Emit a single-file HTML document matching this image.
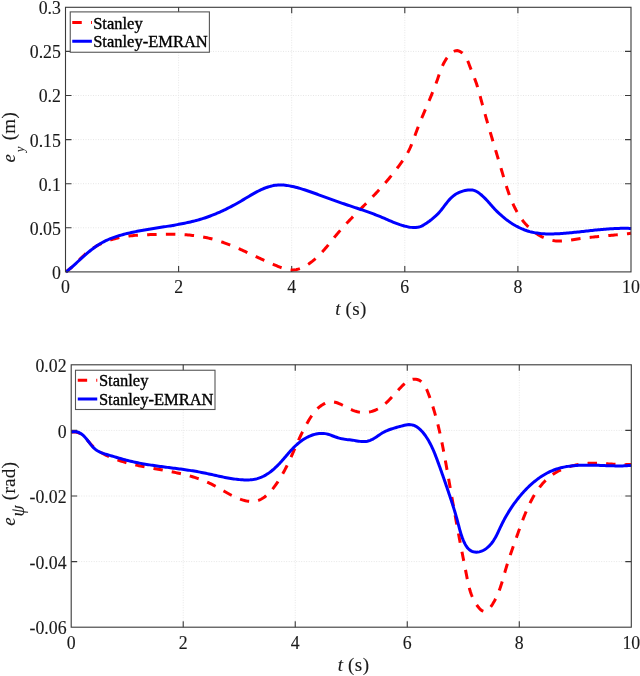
<!DOCTYPE html>
<html><head><meta charset="utf-8"><style>
html,body{margin:0;padding:0;background:#fff;width:640px;height:676px;overflow:hidden}
svg{display:block;filter:blur(0.3px)}
.tk{font-family:"Liberation Serif",serif;font-size:17.8px;fill:#1a1a1a;stroke:#1a1a1a;stroke-width:0.12px}
.lb{font-family:"Liberation Serif",serif;font-size:19px;fill:#1a1a1a;stroke:#1a1a1a;stroke-width:0.12px}
.lg{font-family:"Liberation Serif",serif;font-size:16.5px;fill:#000;stroke:#000;stroke-width:0.35px}
</style></head><body>
<svg width="640" height="676" viewBox="0 0 640 676">
<rect width="640" height="676" fill="#fff"/>
<path d="M178.60 7.30 V271.90 M291.70 7.30 V271.90 M404.80 7.30 V271.90 M517.90 7.30 V271.90 M65.50 227.80 H631.00 M65.50 183.70 H631.00 M65.50 139.60 H631.00 M65.50 95.50 H631.00 M65.50 51.40 H631.00" stroke="#e6e6e6" stroke-width="1" stroke-dasharray="1 1.5" fill="none"/>
<path d="M178.60 271.90 v-6.00 M178.60 7.30 v6.00 M291.70 271.90 v-6.00 M291.70 7.30 v6.00 M404.80 271.90 v-6.00 M404.80 7.30 v6.00 M517.90 271.90 v-6.00 M517.90 7.30 v6.00 M65.50 227.80 h6.00 M631.00 227.80 h-6.00 M65.50 183.70 h6.00 M631.00 183.70 h-6.00 M65.50 139.60 h6.00 M631.00 139.60 h-6.00 M65.50 95.50 h6.00 M631.00 95.50 h-6.00 M65.50 51.40 h6.00 M631.00 51.40 h-6.00" stroke="#3a3a3a" stroke-width="1.1" fill="none"/>
<text x="65.50" y="293.10" text-anchor="middle" class="tk">0</text>
<text x="178.60" y="293.10" text-anchor="middle" class="tk">2</text>
<text x="291.70" y="293.10" text-anchor="middle" class="tk">4</text>
<text x="404.80" y="293.10" text-anchor="middle" class="tk">6</text>
<text x="517.90" y="293.10" text-anchor="middle" class="tk">8</text>
<text x="631.00" y="293.10" text-anchor="middle" class="tk">10</text>
<text x="60.90" y="278.80" text-anchor="end" class="tk">0</text>
<text x="60.90" y="234.70" text-anchor="end" class="tk">0.05</text>
<text x="60.90" y="190.60" text-anchor="end" class="tk">0.1</text>
<text x="60.90" y="146.50" text-anchor="end" class="tk">0.15</text>
<text x="60.90" y="102.40" text-anchor="end" class="tk">0.2</text>
<text x="60.90" y="58.30" text-anchor="end" class="tk">0.25</text>
<text x="60.90" y="14.20" text-anchor="end" class="tk">0.3</text>
<path d="M183.22 364.80 V627.20 M295.24 364.80 V627.20 M407.26 364.80 V627.20 M519.28 364.80 V627.20 M71.20 561.60 H631.30 M71.20 496.00 H631.30 M71.20 430.40 H631.30" stroke="#e6e6e6" stroke-width="1" stroke-dasharray="1 1.5" fill="none"/>
<path d="M183.22 627.20 v-6.00 M183.22 364.80 v6.00 M295.24 627.20 v-6.00 M295.24 364.80 v6.00 M407.26 627.20 v-6.00 M407.26 364.80 v6.00 M519.28 627.20 v-6.00 M519.28 364.80 v6.00 M71.20 561.60 h6.00 M631.30 561.60 h-6.00 M71.20 496.00 h6.00 M631.30 496.00 h-6.00 M71.20 430.40 h6.00 M631.30 430.40 h-6.00" stroke="#3a3a3a" stroke-width="1.1" fill="none"/>
<text x="71.20" y="649.40" text-anchor="middle" class="tk">0</text>
<text x="183.22" y="649.40" text-anchor="middle" class="tk">2</text>
<text x="295.24" y="649.40" text-anchor="middle" class="tk">4</text>
<text x="407.26" y="649.40" text-anchor="middle" class="tk">6</text>
<text x="519.28" y="649.40" text-anchor="middle" class="tk">8</text>
<text x="631.30" y="649.40" text-anchor="middle" class="tk">10</text>
<text x="66.60" y="634.40" text-anchor="end" class="tk">-0.06</text>
<text x="66.60" y="568.80" text-anchor="end" class="tk">-0.04</text>
<text x="66.60" y="503.20" text-anchor="end" class="tk">-0.02</text>
<text x="66.60" y="437.60" text-anchor="end" class="tk">0</text>
<text x="66.60" y="372.00" text-anchor="end" class="tk">0.02</text>
<path d="M65.79 271.82 L67.05 270.97 L68.27 270.08 L69.46 269.15 L70.62 268.20 L71.75 267.22 L72.86 266.23 L73.95 265.21 L75.03 264.17 L76.09 263.13 L77.15 262.07 L78.20 261.01 L79.24 259.95 L80.29 258.89 L81.35 257.84 L82.41 256.79 L83.49 255.76 L84.58 254.74 L85.70 253.74 L86.83 252.77 L87.99 251.82 L89.18 250.89 L90.39 250.00 L91.63 249.13 L92.88 248.29 L94.16 247.47 L95.45 246.69 L96.76 245.93 L98.09 245.20 L99.43 244.50 L100.79 243.82 L102.15 243.18 L103.53 242.57 L104.92 241.98 L106.31 241.43 L107.71 240.90 L109.11 240.40 L110.52 239.93 L111.94 239.49 L113.36 239.08 L114.79 238.69 L116.22 238.32 L117.66 237.98 L119.10 237.66 L120.54 237.36 L122.00 237.08 L123.45 236.82 L124.91 236.59 L126.37 236.37 L127.84 236.16 L129.31 235.98 L130.79 235.81 L132.27 235.65 L133.75 235.51 L135.23 235.38 L136.72 235.26 L138.21 235.15 L139.70 235.06 L141.20 234.97 L142.70 234.89 L144.20 234.82 L145.70 234.76 L147.20 234.70 L148.71 234.64 L150.21 234.59 L151.72 234.54 L153.23 234.50 L154.74 234.46 L156.26 234.42 L157.77 234.38 L159.28 234.35 L160.80 234.32 L162.31 234.29 L163.83 234.27 L165.34 234.26 L166.85 234.25 L168.37 234.24 L169.88 234.25 L171.40 234.26 L172.91 234.27 L174.42 234.30 L175.93 234.34 L177.44 234.38 L178.95 234.43 L180.45 234.49 L181.96 234.56 L183.46 234.65 L184.96 234.74 L186.46 234.85 L187.96 234.96 L189.45 235.09 L190.94 235.23 L192.43 235.39 L193.91 235.56 L195.40 235.74 L196.88 235.94 L198.35 236.15 L199.82 236.38 L201.29 236.62 L202.76 236.88 L204.22 237.16 L205.67 237.45 L207.13 237.76 L208.57 238.09 L210.02 238.44 L211.45 238.80 L212.89 239.18 L214.32 239.58 L215.74 240.00 L217.17 240.43 L218.58 240.87 L220.00 241.33 L221.41 241.81 L222.82 242.29 L224.22 242.79 L225.62 243.31 L227.02 243.83 L228.41 244.36 L229.81 244.91 L231.20 245.47 L232.58 246.03 L233.97 246.60 L235.35 247.19 L236.73 247.78 L238.11 248.37 L239.49 248.98 L240.86 249.59 L242.24 250.20 L243.61 250.82 L244.98 251.45 L246.35 252.07 L247.72 252.71 L249.08 253.34 L250.45 253.98 L251.82 254.61 L253.18 255.25 L254.55 255.89 L255.91 256.53 L257.28 257.17 L258.65 257.81 L260.01 258.44 L261.38 259.08 L262.74 259.71 L264.11 260.34 L265.48 260.96 L266.85 261.58 L268.22 262.19 L269.59 262.80 L270.96 263.40 L272.33 263.99 L273.71 264.58 L275.08 265.16 L276.46 265.73 L277.84 266.29 L279.22 266.84 L280.61 267.37 L282.00 267.87 L283.39 268.34 L284.78 268.76 L286.18 269.14 L287.58 269.45 L288.98 269.70 L290.39 269.87 L291.80 269.96 L293.22 269.96 L294.64 269.86 L296.07 269.65 L297.50 269.34 L298.93 268.93 L300.36 268.42 L301.78 267.84 L303.19 267.18 L304.59 266.45 L305.97 265.66 L307.34 264.82 L308.68 263.93 L309.99 263.01 L311.27 262.06 L312.53 261.08 L313.74 260.09 L314.93 259.09 L316.09 258.07 L317.21 257.03 L318.31 255.99 L319.39 254.93 L320.44 253.86 L321.47 252.77 L322.48 251.68 L323.48 250.58 L324.45 249.47 L325.42 248.36 L326.37 247.24 L327.31 246.11 L328.24 244.98 L329.16 243.84 L330.08 242.71 L331.00 241.57 L331.92 240.43 L332.83 239.29 L333.75 238.15 L334.67 237.01 L335.60 235.87 L336.53 234.74 L337.47 233.61 L338.43 232.48 L339.39 231.36 L340.36 230.24 L341.34 229.13 L342.33 228.02 L343.33 226.92 L344.34 225.82 L345.35 224.72 L346.37 223.62 L347.40 222.53 L348.43 221.44 L349.46 220.35 L350.51 219.26 L351.55 218.18 L352.60 217.10 L353.66 216.02 L354.71 214.94 L355.77 213.86 L356.83 212.79 L357.90 211.71 L358.96 210.64 L360.03 209.56 L361.10 208.49 L362.16 207.41 L363.23 206.34 L364.29 205.27 L365.36 204.19 L366.42 203.12 L367.48 202.04 L368.54 200.96 L369.59 199.89 L370.64 198.81 L371.69 197.73 L372.73 196.64 L373.77 195.56 L374.80 194.47 L375.83 193.38 L376.85 192.29 L377.87 191.19 L378.88 190.10 L379.88 189.00 L380.87 187.89 L381.87 186.78 L382.85 185.67 L383.83 184.56 L384.80 183.44 L385.77 182.32 L386.73 181.19 L387.69 180.06 L388.64 178.92 L389.59 177.78 L390.53 176.63 L391.47 175.48 L392.40 174.32 L393.33 173.16 L394.25 171.99 L395.17 170.81 L396.08 169.63 L396.99 168.44 L397.90 167.25 L398.80 166.05 L399.69 164.84 L400.58 163.62 L401.47 162.40 L402.34 161.17 L403.20 159.93 L404.05 158.68 L404.88 157.41 L405.69 156.14 L406.47 154.85 L407.23 153.55 L407.97 152.24 L408.67 150.91 L409.34 149.57 L409.98 148.22 L410.59 146.85 L411.19 145.47 L411.76 144.09 L412.32 142.70 L412.86 141.30 L413.39 139.89 L413.91 138.49 L414.42 137.08 L414.93 135.66 L415.44 134.25 L415.95 132.84 L416.47 131.44 L416.99 130.03 L417.52 128.64 L418.06 127.24 L418.60 125.85 L419.15 124.46 L419.71 123.07 L420.27 121.69 L420.83 120.31 L421.40 118.93 L421.97 117.55 L422.54 116.18 L423.12 114.80 L423.70 113.43 L424.28 112.06 L424.86 110.69 L425.45 109.32 L426.03 107.95 L426.62 106.58 L427.20 105.20 L427.79 103.83 L428.37 102.46 L428.95 101.08 L429.53 99.71 L430.11 98.33 L430.69 96.95 L431.26 95.57 L431.83 94.19 L432.39 92.80 L432.95 91.41 L433.51 90.02 L434.06 88.62 L434.60 87.22 L435.14 85.81 L435.67 84.41 L436.20 82.99 L436.71 81.57 L437.22 80.15 L437.73 78.72 L438.22 77.29 L438.71 75.86 L439.20 74.42 L439.70 72.99 L440.21 71.56 L440.73 70.14 L441.27 68.74 L441.84 67.34 L442.43 65.97 L443.05 64.61 L443.71 63.27 L444.41 61.96 L445.16 60.67 L445.95 59.41 L446.80 58.19 L447.71 57.00 L448.68 55.85 L449.71 54.74 L450.82 53.67 L452.00 52.66 L453.25 51.77 L454.56 51.09 L455.91 50.67 L457.31 50.61 L458.73 50.91 L460.13 51.53 L461.49 52.39 L462.74 53.41 L463.87 54.55 L464.86 55.75 L465.72 57.00 L466.49 58.31 L467.16 59.65 L467.78 61.02 L468.34 62.41 L468.88 63.82 L469.41 65.22 L469.94 66.62 L470.48 68.02 L471.03 69.41 L471.58 70.80 L472.13 72.19 L472.68 73.58 L473.23 74.97 L473.78 76.36 L474.32 77.75 L474.85 79.15 L475.37 80.55 L475.87 81.96 L476.37 83.37 L476.84 84.79 L477.30 86.22 L477.74 87.66 L478.18 89.10 L478.60 90.55 L479.01 92.00 L479.41 93.46 L479.81 94.92 L480.20 96.37 L480.59 97.83 L480.98 99.29 L481.36 100.75 L481.75 102.20 L482.14 103.66 L482.54 105.10 L482.93 106.55 L483.33 108.00 L483.73 109.44 L484.13 110.88 L484.53 112.32 L484.93 113.76 L485.34 115.20 L485.74 116.63 L486.15 118.07 L486.56 119.50 L486.97 120.93 L487.38 122.36 L487.79 123.79 L488.21 125.22 L488.62 126.64 L489.04 128.07 L489.45 129.50 L489.87 130.92 L490.29 132.35 L490.71 133.77 L491.13 135.19 L491.55 136.62 L491.98 138.04 L492.40 139.47 L492.82 140.89 L493.25 142.31 L493.67 143.74 L494.10 145.16 L494.53 146.59 L494.95 148.01 L495.38 149.44 L495.81 150.87 L496.24 152.30 L496.67 153.73 L497.10 155.16 L497.53 156.59 L497.96 158.02 L498.39 159.46 L498.82 160.89 L499.25 162.33 L499.67 163.77 L500.10 165.21 L500.53 166.65 L500.96 168.10 L501.39 169.54 L501.82 170.99 L502.25 172.45 L502.68 173.90 L503.11 175.35 L503.54 176.81 L503.97 178.27 L504.41 179.73 L504.85 181.18 L505.29 182.64 L505.74 184.09 L506.19 185.54 L506.66 186.99 L507.12 188.44 L507.60 189.88 L508.09 191.32 L508.58 192.75 L509.09 194.17 L509.61 195.59 L510.14 197.00 L510.69 198.41 L511.24 199.80 L511.82 201.19 L512.41 202.57 L513.01 203.94 L513.63 205.29 L514.27 206.64 L514.93 207.97 L515.61 209.30 L516.31 210.60 L517.03 211.90 L517.77 213.18 L518.54 214.45 L519.33 215.70 L520.14 216.93 L520.98 218.15 L521.84 219.35 L522.73 220.53 L523.65 221.70 L524.60 222.84 L525.58 223.97 L526.58 225.07 L527.61 226.16 L528.68 227.22 L529.77 228.25 L530.88 229.26 L532.02 230.23 L533.19 231.18 L534.38 232.09 L535.59 232.97 L536.83 233.82 L538.09 234.62 L539.37 235.39 L540.67 236.11 L541.99 236.80 L543.33 237.43 L544.69 238.03 L546.07 238.57 L547.46 239.06 L548.87 239.51 L550.30 239.90 L551.74 240.23 L553.19 240.51 L554.66 240.73 L556.14 240.89 L557.63 240.99 L559.13 241.03 L560.64 241.02 L562.16 240.96 L563.69 240.86 L565.22 240.72 L566.75 240.55 L568.29 240.36 L569.83 240.15 L571.36 239.92 L572.90 239.69 L574.43 239.45 L575.95 239.22 L577.47 239.00 L578.99 238.78 L580.50 238.57 L582.00 238.37 L583.50 238.17 L584.99 237.98 L586.48 237.80 L587.97 237.62 L589.45 237.45 L590.93 237.29 L592.41 237.12 L593.88 236.97 L595.36 236.81 L596.83 236.66 L598.30 236.51 L599.77 236.37 L601.24 236.23 L602.70 236.09 L604.17 235.95 L605.64 235.81 L607.11 235.68 L608.58 235.54 L610.05 235.41 L611.53 235.27 L613.01 235.14 L614.48 235.00 L615.97 234.87 L617.45 234.73 L618.94 234.59 L620.43 234.45 L621.93 234.30 L623.43 234.15 L624.94 234.00 L626.45 233.85 L627.97 233.69 L629.49 233.53 L631.02 233.36" stroke="#ff0000" stroke-width="3.00" stroke-dasharray="9.5 9.237" stroke-dashoffset="1.04" fill="none"/>
<path d="M66.00 272.00 L67.13 271.09 L68.25 270.16 L69.37 269.22 L70.49 268.26 L71.60 267.29 L72.71 266.30 L73.82 265.31 L74.93 264.30 L76.04 263.29 L77.15 262.27 L78.26 261.25 L79.37 260.23 L80.49 259.21 L81.60 258.19 L82.73 257.17 L83.86 256.16 L84.99 255.15 L86.13 254.16 L87.28 253.17 L88.43 252.20 L89.60 251.23 L90.77 250.29 L91.95 249.36 L93.15 248.45 L94.35 247.56 L95.57 246.69 L96.80 245.85 L98.04 245.03 L99.30 244.24 L100.57 243.48 L101.85 242.75 L103.15 242.04 L104.47 241.37 L105.79 240.72 L107.13 240.09 L108.48 239.50 L109.85 238.92 L111.22 238.37 L112.61 237.84 L114.00 237.33 L115.40 236.84 L116.81 236.38 L118.23 235.93 L119.66 235.49 L121.10 235.08 L122.54 234.68 L123.99 234.29 L125.44 233.92 L126.90 233.56 L128.36 233.21 L129.82 232.87 L131.29 232.55 L132.76 232.23 L134.23 231.92 L135.71 231.62 L137.19 231.33 L138.67 231.05 L140.15 230.77 L141.63 230.50 L143.12 230.23 L144.60 229.97 L146.09 229.72 L147.58 229.46 L149.07 229.22 L150.56 228.97 L152.05 228.73 L153.54 228.49 L155.03 228.26 L156.52 228.02 L158.02 227.79 L159.51 227.56 L161.00 227.32 L162.49 227.09 L163.98 226.85 L165.47 226.62 L166.95 226.38 L168.44 226.14 L169.92 225.90 L171.41 225.65 L172.89 225.40 L174.37 225.15 L175.85 224.89 L177.32 224.62 L178.79 224.35 L180.27 224.07 L181.73 223.79 L183.20 223.50 L184.66 223.20 L186.12 222.90 L187.58 222.58 L189.03 222.26 L190.48 221.92 L191.92 221.58 L193.36 221.22 L194.80 220.86 L196.23 220.48 L197.66 220.09 L199.08 219.69 L200.50 219.28 L201.92 218.85 L203.33 218.40 L204.73 217.95 L206.13 217.48 L207.52 216.99 L208.91 216.50 L210.30 215.99 L211.68 215.46 L213.05 214.93 L214.43 214.38 L215.80 213.81 L217.16 213.24 L218.52 212.65 L219.88 212.05 L221.23 211.44 L222.58 210.81 L223.93 210.18 L225.28 209.53 L226.62 208.87 L227.96 208.20 L229.30 207.52 L230.63 206.83 L231.96 206.13 L233.30 205.42 L234.62 204.69 L235.95 203.96 L237.28 203.22 L238.60 202.46 L239.92 201.70 L241.24 200.93 L242.56 200.15 L243.88 199.36 L245.20 198.57 L246.52 197.77 L247.84 196.98 L249.16 196.19 L250.48 195.41 L251.81 194.64 L253.13 193.88 L254.46 193.13 L255.79 192.40 L257.13 191.69 L258.47 191.00 L259.81 190.33 L261.16 189.70 L262.51 189.09 L263.87 188.51 L265.23 187.97 L266.61 187.46 L267.98 187.00 L269.37 186.57 L270.76 186.20 L272.16 185.87 L273.57 185.58 L274.99 185.36 L276.41 185.18 L277.85 185.07 L279.29 185.01 L280.74 184.99 L282.20 185.03 L283.67 185.12 L285.14 185.25 L286.61 185.42 L288.09 185.63 L289.58 185.87 L291.06 186.16 L292.55 186.47 L294.03 186.81 L295.52 187.18 L297.01 187.57 L298.49 187.98 L299.97 188.42 L301.45 188.87 L302.93 189.33 L304.40 189.80 L305.86 190.29 L307.32 190.78 L308.77 191.27 L310.22 191.77 L311.65 192.27 L313.08 192.77 L314.51 193.27 L315.93 193.78 L317.34 194.28 L318.75 194.79 L320.15 195.29 L321.55 195.80 L322.95 196.31 L324.35 196.82 L325.74 197.32 L327.13 197.83 L328.51 198.34 L329.90 198.84 L331.29 199.34 L332.67 199.85 L334.06 200.35 L335.44 200.85 L336.83 201.34 L338.22 201.84 L339.61 202.33 L341.00 202.81 L342.40 203.30 L343.79 203.78 L345.20 204.26 L346.60 204.74 L348.01 205.21 L349.42 205.68 L350.83 206.15 L352.24 206.62 L353.66 207.09 L355.07 207.56 L356.49 208.04 L357.91 208.51 L359.33 208.99 L360.75 209.46 L362.16 209.94 L363.58 210.43 L365.00 210.92 L366.42 211.41 L367.83 211.91 L369.25 212.41 L370.66 212.92 L372.07 213.44 L373.48 213.97 L374.88 214.50 L376.28 215.04 L377.68 215.59 L379.08 216.15 L380.47 216.72 L381.86 217.30 L383.24 217.89 L384.63 218.48 L386.01 219.08 L387.38 219.68 L388.76 220.28 L390.14 220.87 L391.52 221.46 L392.91 222.04 L394.29 222.60 L395.68 223.15 L397.08 223.68 L398.48 224.19 L399.88 224.68 L401.30 225.14 L402.72 225.57 L404.15 225.96 L405.60 226.33 L407.05 226.65 L408.51 226.94 L409.99 227.18 L411.48 227.38 L412.97 227.51 L414.47 227.56 L415.95 227.52 L417.41 227.36 L418.85 227.08 L420.26 226.64 L421.63 226.06 L422.96 225.37 L424.27 224.59 L425.56 223.78 L426.83 222.95 L428.08 222.09 L429.31 221.22 L430.52 220.32 L431.71 219.40 L432.87 218.45 L434.01 217.48 L435.13 216.49 L436.22 215.47 L437.29 214.42 L438.32 213.35 L439.33 212.25 L440.31 211.11 L441.27 209.96 L442.20 208.78 L443.12 207.58 L444.03 206.38 L444.94 205.18 L445.85 203.99 L446.77 202.80 L447.70 201.64 L448.66 200.50 L449.65 199.39 L450.67 198.32 L451.73 197.29 L452.83 196.32 L453.99 195.40 L455.20 194.55 L456.48 193.77 L457.81 193.05 L459.19 192.41 L460.60 191.83 L462.05 191.33 L463.53 190.89 L465.02 190.53 L466.52 190.24 L468.02 190.04 L469.51 189.93 L470.99 189.95 L472.45 190.10 L473.87 190.40 L475.25 190.87 L476.58 191.50 L477.87 192.26 L479.11 193.13 L480.30 194.05 L481.46 195.01 L482.58 196.01 L483.67 197.03 L484.73 198.08 L485.77 199.15 L486.79 200.24 L487.79 201.34 L488.79 202.45 L489.77 203.57 L490.76 204.70 L491.75 205.82 L492.75 206.94 L493.76 208.05 L494.79 209.16 L495.84 210.25 L496.90 211.32 L497.98 212.39 L499.08 213.43 L500.19 214.47 L501.33 215.48 L502.47 216.48 L503.64 217.45 L504.82 218.41 L506.01 219.35 L507.22 220.26 L508.45 221.15 L509.68 222.02 L510.94 222.87 L512.20 223.69 L513.48 224.48 L514.78 225.24 L516.08 225.98 L517.40 226.69 L518.73 227.37 L520.08 228.01 L521.43 228.63 L522.80 229.21 L524.17 229.76 L525.56 230.28 L526.96 230.76 L528.37 231.20 L529.79 231.61 L531.21 231.97 L532.65 232.31 L534.10 232.60 L535.55 232.87 L537.01 233.10 L538.47 233.30 L539.95 233.47 L541.43 233.62 L542.91 233.74 L544.40 233.83 L545.89 233.90 L547.39 233.94 L548.89 233.96 L550.39 233.97 L551.90 233.95 L553.41 233.92 L554.92 233.87 L556.42 233.81 L557.93 233.74 L559.44 233.65 L560.95 233.55 L562.46 233.44 L563.96 233.33 L565.47 233.21 L566.97 233.08 L568.47 232.94 L569.96 232.80 L571.46 232.66 L572.95 232.51 L574.44 232.36 L575.93 232.21 L577.42 232.05 L578.91 231.89 L580.39 231.73 L581.88 231.56 L583.36 231.40 L584.85 231.23 L586.33 231.07 L587.81 230.90 L589.29 230.74 L590.77 230.58 L592.26 230.42 L593.74 230.26 L595.22 230.10 L596.70 229.95 L598.18 229.80 L599.67 229.66 L601.15 229.52 L602.63 229.39 L604.12 229.26 L605.61 229.14 L607.09 229.02 L608.58 228.91 L610.07 228.81 L611.56 228.72 L613.05 228.63 L614.55 228.55 L616.05 228.49 L617.54 228.43 L619.04 228.38 L620.55 228.35 L622.05 228.32 L623.56 228.31 L625.07 228.31 L626.58 228.32 L628.10 228.35 L629.62 228.38 L631.14 228.44" stroke="#0000ff" stroke-width="3.00" fill="none"/>
<path d="M71.14 432.23 L72.85 432.00 L74.45 431.96 L75.96 432.11 L77.38 432.42 L78.72 432.89 L79.98 433.50 L81.18 434.23 L82.33 435.08 L83.43 436.01 L84.49 437.03 L85.52 438.10 L86.54 439.23 L87.53 440.38 L88.53 441.56 L89.53 442.74 L90.55 443.90 L91.58 445.04 L92.65 446.13 L93.75 447.18 L94.88 448.17 L96.05 449.12 L97.24 450.02 L98.46 450.89 L99.70 451.71 L100.97 452.50 L102.26 453.25 L103.57 453.97 L104.89 454.66 L106.22 455.32 L107.57 455.95 L108.93 456.56 L110.30 457.15 L111.68 457.72 L113.06 458.27 L114.45 458.81 L115.85 459.32 L117.25 459.82 L118.66 460.31 L120.07 460.77 L121.49 461.23 L122.92 461.66 L124.34 462.09 L125.78 462.50 L127.22 462.90 L128.66 463.28 L130.11 463.65 L131.56 464.02 L133.02 464.37 L134.47 464.71 L135.94 465.04 L137.40 465.36 L138.87 465.68 L140.34 465.99 L141.81 466.29 L143.29 466.58 L144.77 466.87 L146.25 467.15 L147.73 467.43 L149.21 467.71 L150.69 467.98 L152.18 468.25 L153.66 468.51 L155.15 468.78 L156.63 469.04 L158.12 469.30 L159.60 469.56 L161.09 469.83 L162.57 470.09 L164.06 470.36 L165.54 470.63 L167.02 470.90 L168.50 471.17 L169.98 471.45 L171.46 471.73 L172.93 472.02 L174.40 472.32 L175.87 472.62 L177.34 472.93 L178.80 473.24 L180.26 473.57 L181.72 473.90 L183.17 474.24 L184.62 474.60 L186.07 474.96 L187.51 475.33 L188.94 475.72 L190.37 476.12 L191.80 476.53 L193.22 476.95 L194.64 477.39 L196.05 477.84 L197.45 478.31 L198.85 478.80 L200.24 479.30 L201.63 479.81 L203.01 480.35 L204.38 480.90 L205.74 481.47 L207.10 482.07 L208.45 482.68 L209.79 483.31 L211.12 483.96 L212.45 484.64 L213.77 485.33 L215.08 486.04 L216.39 486.77 L217.69 487.51 L219.00 488.25 L220.30 489.01 L221.61 489.77 L222.91 490.53 L224.23 491.29 L225.55 492.04 L226.87 492.79 L228.21 493.53 L229.55 494.26 L230.91 494.97 L232.28 495.66 L233.66 496.34 L235.07 496.99 L236.49 497.62 L237.92 498.22 L239.38 498.79 L240.86 499.33 L242.36 499.82 L243.88 500.27 L245.40 500.67 L246.92 501.00 L248.44 501.25 L249.95 501.43 L251.43 501.51 L252.90 501.49 L254.33 501.37 L255.72 501.13 L257.09 500.80 L258.42 500.37 L259.72 499.84 L260.99 499.23 L262.23 498.54 L263.45 497.77 L264.63 496.94 L265.78 496.03 L266.91 495.07 L268.00 494.06 L269.08 493.00 L270.12 491.89 L271.14 490.75 L272.14 489.57 L273.11 488.37 L274.05 487.15 L274.98 485.91 L275.88 484.66 L276.76 483.41 L277.62 482.14 L278.46 480.87 L279.28 479.59 L280.08 478.31 L280.87 477.01 L281.63 475.71 L282.38 474.41 L283.12 473.10 L283.84 471.78 L284.55 470.46 L285.25 469.14 L285.93 467.80 L286.60 466.47 L287.26 465.13 L287.92 463.79 L288.56 462.44 L289.20 461.09 L289.82 459.74 L290.45 458.38 L291.06 457.03 L291.68 455.67 L292.28 454.31 L292.89 452.95 L293.49 451.58 L294.10 450.22 L294.70 448.85 L295.30 447.49 L295.90 446.13 L296.50 444.76 L297.11 443.40 L297.72 442.04 L298.34 440.67 L298.96 439.31 L299.58 437.96 L300.21 436.60 L300.85 435.25 L301.50 433.90 L302.16 432.55 L302.82 431.21 L303.50 429.87 L304.19 428.53 L304.89 427.20 L305.60 425.87 L306.33 424.55 L307.08 423.23 L307.83 421.91 L308.61 420.61 L309.40 419.31 L310.21 418.01 L311.04 416.73 L311.90 415.46 L312.79 414.22 L313.70 413.00 L314.66 411.81 L315.65 410.65 L316.68 409.53 L317.75 408.46 L318.88 407.44 L320.05 406.47 L321.28 405.55 L322.57 404.71 L323.90 403.94 L325.26 403.26 L326.65 402.70 L328.05 402.26 L329.44 401.97 L330.83 401.83 L332.21 401.83 L333.58 401.96 L334.95 402.21 L336.31 402.56 L337.67 403.01 L339.03 403.53 L340.39 404.12 L341.75 404.77 L343.11 405.45 L344.49 406.16 L345.86 406.89 L347.25 407.62 L348.65 408.33 L350.06 409.03 L351.48 409.68 L352.93 410.29 L354.38 410.84 L355.86 411.31 L357.35 411.70 L358.86 412.00 L360.38 412.22 L361.90 412.37 L363.43 412.43 L364.95 412.41 L366.46 412.32 L367.95 412.16 L369.42 411.92 L370.88 411.61 L372.30 411.22 L373.69 410.77 L375.04 410.26 L376.35 409.67 L377.64 409.03 L378.89 408.33 L380.11 407.58 L381.31 406.78 L382.48 405.92 L383.63 405.03 L384.76 404.09 L385.87 403.12 L386.97 402.11 L388.05 401.07 L389.12 400.01 L390.18 398.92 L391.23 397.81 L392.28 396.68 L393.33 395.54 L394.37 394.39 L395.42 393.23 L396.47 392.06 L397.53 390.90 L398.59 389.74 L399.66 388.58 L400.75 387.43 L401.85 386.30 L402.97 385.19 L404.11 384.11 L405.27 383.09 L406.46 382.15 L407.68 381.30 L408.93 380.57 L410.22 379.97 L411.55 379.52 L412.93 379.24 L414.35 379.16 L415.79 379.26 L417.22 379.55 L418.59 380.00 L419.86 380.62 L421.01 381.38 L422.06 382.27 L423.02 383.28 L423.90 384.39 L424.70 385.59 L425.43 386.87 L426.12 388.21 L426.75 389.60 L427.35 391.03 L427.92 392.48 L428.48 393.94 L429.02 395.39 L429.56 396.85 L430.08 398.31 L430.59 399.76 L431.09 401.22 L431.58 402.67 L432.06 404.13 L432.53 405.58 L432.99 407.03 L433.44 408.49 L433.89 409.94 L434.32 411.39 L434.75 412.85 L435.16 414.30 L435.57 415.75 L435.97 417.20 L436.37 418.66 L436.75 420.11 L437.13 421.56 L437.50 423.01 L437.87 424.47 L438.23 425.92 L438.58 427.37 L438.92 428.82 L439.26 430.28 L439.60 431.73 L439.92 433.18 L440.25 434.64 L440.57 436.09 L440.88 437.55 L441.19 439.00 L441.49 440.46 L441.79 441.92 L442.09 443.37 L442.38 444.83 L442.67 446.29 L442.96 447.75 L443.24 449.21 L443.52 450.67 L443.80 452.13 L444.07 453.59 L444.34 455.05 L444.62 456.51 L444.88 457.98 L445.15 459.44 L445.42 460.91 L445.68 462.38 L445.95 463.84 L446.21 465.31 L446.48 466.78 L446.74 468.25 L447.00 469.73 L447.27 471.20 L447.53 472.67 L447.79 474.15 L448.05 475.62 L448.32 477.10 L448.58 478.58 L448.84 480.05 L449.10 481.53 L449.36 483.01 L449.63 484.49 L449.89 485.97 L450.15 487.45 L450.41 488.93 L450.67 490.41 L450.93 491.89 L451.20 493.37 L451.46 494.86 L451.72 496.34 L451.98 497.82 L452.24 499.30 L452.51 500.78 L452.77 502.26 L453.03 503.75 L453.30 505.23 L453.56 506.71 L453.83 508.19 L454.09 509.67 L454.36 511.15 L454.62 512.63 L454.89 514.11 L455.16 515.59 L455.42 517.07 L455.69 518.55 L455.96 520.03 L456.23 521.51 L456.50 522.98 L456.77 524.46 L457.04 525.93 L457.31 527.41 L457.59 528.88 L457.86 530.36 L458.14 531.83 L458.41 533.30 L458.69 534.77 L458.97 536.24 L459.24 537.70 L459.52 539.17 L459.80 540.64 L460.08 542.10 L460.37 543.56 L460.65 545.03 L460.93 546.49 L461.22 547.95 L461.50 549.41 L461.78 550.87 L462.07 552.34 L462.36 553.80 L462.64 555.26 L462.93 556.72 L463.21 558.18 L463.50 559.65 L463.79 561.11 L464.08 562.57 L464.36 564.04 L464.65 565.51 L464.94 566.97 L465.22 568.44 L465.51 569.91 L465.79 571.39 L466.08 572.86 L466.36 574.34 L466.65 575.81 L466.93 577.29 L467.22 578.77 L467.52 580.25 L467.83 581.73 L468.15 583.21 L468.48 584.68 L468.84 586.15 L469.21 587.61 L469.61 589.07 L470.04 590.52 L470.49 591.96 L470.98 593.40 L471.50 594.82 L472.06 596.24 L472.67 597.64 L473.31 599.03 L474.01 600.41 L474.75 601.78 L475.55 603.12 L476.40 604.46 L477.31 605.77 L478.27 607.04 L479.27 608.23 L480.32 609.29 L481.39 610.18 L482.47 610.86 L483.57 611.29 L484.66 611.43 L485.75 611.24 L486.82 610.75 L487.87 610.00 L488.89 609.03 L489.89 607.90 L490.86 606.65 L491.78 605.31 L492.67 603.95 L493.51 602.57 L494.31 601.19 L495.07 599.80 L495.79 598.40 L496.48 596.99 L497.13 595.58 L497.75 594.16 L498.35 592.74 L498.91 591.31 L499.46 589.88 L499.97 588.45 L500.47 587.01 L500.95 585.57 L501.41 584.13 L501.86 582.69 L502.30 581.25 L502.72 579.81 L503.14 578.37 L503.55 576.93 L503.96 575.50 L504.36 574.07 L504.77 572.64 L505.17 571.21 L505.58 569.79 L506.00 568.38 L506.42 566.97 L506.85 565.56 L507.29 564.16 L507.73 562.77 L508.17 561.37 L508.62 559.98 L509.08 558.59 L509.54 557.20 L510.00 555.82 L510.47 554.43 L510.94 553.05 L511.42 551.66 L511.90 550.28 L512.39 548.89 L512.87 547.50 L513.36 546.11 L513.86 544.72 L514.35 543.32 L514.85 541.93 L515.35 540.52 L515.85 539.12 L516.35 537.71 L516.86 536.29 L517.37 534.87 L517.87 533.44 L518.38 532.01 L518.89 530.58 L519.41 529.14 L519.92 527.69 L520.45 526.25 L520.97 524.80 L521.50 523.36 L522.04 521.91 L522.58 520.47 L523.13 519.02 L523.69 517.58 L524.25 516.14 L524.82 514.71 L525.41 513.28 L526.00 511.86 L526.60 510.45 L527.21 509.04 L527.84 507.64 L528.47 506.25 L529.12 504.86 L529.78 503.49 L530.46 502.13 L531.15 500.78 L531.85 499.45 L532.57 498.13 L533.31 496.82 L534.06 495.53 L534.83 494.25 L535.62 492.99 L536.42 491.74 L537.25 490.52 L538.09 489.31 L538.95 488.13 L539.83 486.96 L540.74 485.82 L541.67 484.70 L542.61 483.60 L543.59 482.52 L544.58 481.47 L545.60 480.44 L546.64 479.44 L547.71 478.47 L548.80 477.52 L549.92 476.60 L551.07 475.72 L552.24 474.86 L553.45 474.03 L554.68 473.23 L555.94 472.47 L557.22 471.73 L558.54 471.03 L559.88 470.36 L561.24 469.73 L562.63 469.12 L564.04 468.55 L565.46 468.00 L566.91 467.49 L568.37 467.01 L569.84 466.55 L571.33 466.13 L572.83 465.73 L574.34 465.37 L575.85 465.03 L577.37 464.72 L578.90 464.44 L580.43 464.19 L581.97 463.97 L583.50 463.77 L585.04 463.61 L586.57 463.46 L588.09 463.35 L589.61 463.26 L591.13 463.20 L592.63 463.16 L594.13 463.15 L595.62 463.16 L597.10 463.19 L598.58 463.24 L600.05 463.30 L601.51 463.38 L602.98 463.46 L604.44 463.56 L605.90 463.66 L607.36 463.77 L608.82 463.88 L610.28 463.99 L611.74 464.10 L613.21 464.21 L614.67 464.30 L616.15 464.40 L617.63 464.48 L619.11 464.54 L620.60 464.60 L622.10 464.63 L623.61 464.65 L625.13 464.65 L626.66 464.62 L628.20 464.57 L629.75 464.49 L631.32 464.38" stroke="#ff0000" stroke-width="3.00" stroke-dasharray="9.4 9.117" stroke-dashoffset="-0.177" fill="none"/>
<path d="M71.13 432.11 L72.79 431.79 L74.37 431.68 L75.88 431.78 L77.31 432.06 L78.68 432.52 L79.97 433.12 L81.20 433.86 L82.37 434.73 L83.48 435.69 L84.54 436.74 L85.55 437.86 L86.52 439.03 L87.47 440.24 L88.41 441.47 L89.34 442.71 L90.27 443.93 L91.23 445.14 L92.21 446.29 L93.22 447.40 L94.29 448.42 L95.41 449.36 L96.59 450.21 L97.83 450.97 L99.11 451.66 L100.44 452.28 L101.80 452.85 L103.19 453.37 L104.60 453.85 L106.03 454.31 L107.48 454.74 L108.93 455.16 L110.38 455.58 L111.83 456.01 L113.27 456.43 L114.72 456.86 L116.16 457.28 L117.60 457.70 L119.04 458.12 L120.48 458.53 L121.92 458.94 L123.37 459.35 L124.81 459.74 L126.25 460.12 L127.70 460.50 L129.15 460.86 L130.60 461.21 L132.05 461.55 L133.51 461.88 L134.96 462.20 L136.42 462.51 L137.88 462.81 L139.35 463.10 L140.81 463.38 L142.28 463.65 L143.75 463.91 L145.22 464.17 L146.69 464.42 L148.17 464.66 L149.64 464.89 L151.12 465.12 L152.59 465.35 L154.07 465.57 L155.55 465.78 L157.03 465.99 L158.51 466.19 L160.00 466.40 L161.48 466.60 L162.96 466.79 L164.45 466.99 L165.93 467.18 L167.42 467.37 L168.90 467.56 L170.39 467.76 L171.87 467.95 L173.36 468.14 L174.84 468.33 L176.33 468.52 L177.81 468.72 L179.30 468.91 L180.78 469.11 L182.27 469.32 L183.75 469.52 L185.23 469.73 L186.71 469.95 L188.20 470.16 L189.68 470.39 L191.16 470.62 L192.63 470.85 L194.11 471.10 L195.59 471.34 L197.06 471.60 L198.54 471.86 L200.01 472.13 L201.48 472.41 L202.95 472.70 L204.42 473.00 L205.88 473.31 L207.35 473.62 L208.81 473.94 L210.27 474.26 L211.73 474.58 L213.20 474.91 L214.66 475.23 L216.12 475.56 L217.58 475.88 L219.04 476.20 L220.51 476.51 L221.97 476.82 L223.43 477.12 L224.90 477.41 L226.37 477.70 L227.84 477.97 L229.31 478.23 L230.78 478.48 L232.25 478.71 L233.73 478.93 L235.21 479.13 L236.69 479.31 L238.18 479.47 L239.67 479.62 L241.16 479.74 L242.66 479.83 L244.15 479.90 L245.64 479.93 L247.13 479.93 L248.62 479.89 L250.10 479.80 L251.57 479.67 L253.04 479.49 L254.49 479.25 L255.93 478.95 L257.35 478.59 L258.76 478.17 L260.15 477.68 L261.53 477.12 L262.88 476.50 L264.22 475.83 L265.53 475.09 L266.83 474.31 L268.10 473.48 L269.36 472.61 L270.59 471.70 L271.80 470.75 L272.98 469.77 L274.14 468.76 L275.28 467.73 L276.40 466.68 L277.49 465.60 L278.55 464.52 L279.59 463.42 L280.61 462.31 L281.62 461.19 L282.61 460.07 L283.59 458.94 L284.56 457.81 L285.53 456.68 L286.49 455.55 L287.45 454.43 L288.42 453.31 L289.39 452.19 L290.37 451.09 L291.36 449.99 L292.37 448.91 L293.40 447.85 L294.44 446.80 L295.51 445.76 L296.60 444.75 L297.73 443.76 L298.88 442.80 L300.05 441.86 L301.26 440.96 L302.49 440.09 L303.74 439.26 L305.02 438.47 L306.33 437.73 L307.66 437.03 L309.01 436.39 L310.39 435.80 L311.79 435.26 L313.21 434.79 L314.65 434.38 L316.12 434.03 L317.60 433.76 L319.09 433.56 L320.59 433.44 L322.09 433.41 L323.59 433.47 L325.07 433.62 L326.54 433.87 L327.99 434.22 L329.41 434.67 L330.82 435.18 L332.23 435.73 L333.63 436.27 L335.04 436.78 L336.46 437.25 L337.88 437.69 L339.32 438.09 L340.76 438.45 L342.21 438.77 L343.66 439.05 L345.13 439.30 L346.60 439.50 L348.08 439.66 L349.57 439.81 L351.06 439.97 L352.55 440.16 L354.05 440.39 L355.55 440.65 L357.04 440.92 L358.54 441.16 L360.03 441.38 L361.52 441.53 L363.00 441.61 L364.48 441.59 L365.94 441.45 L367.39 441.18 L368.82 440.81 L370.22 440.32 L371.59 439.74 L372.92 439.06 L374.22 438.32 L375.50 437.52 L376.76 436.69 L378.02 435.83 L379.27 434.97 L380.53 434.12 L381.80 433.30 L383.09 432.52 L384.41 431.81 L385.75 431.16 L387.12 430.56 L388.50 430.01 L389.88 429.50 L391.27 429.02 L392.67 428.57 L394.07 428.13 L395.49 427.72 L396.92 427.31 L398.37 426.91 L399.84 426.52 L401.33 426.13 L402.86 425.73 L404.40 425.33 L405.96 424.99 L407.51 424.73 L409.02 424.60 L410.48 424.64 L411.90 424.85 L413.27 425.20 L414.59 425.70 L415.86 426.32 L417.09 427.07 L418.28 427.91 L419.42 428.85 L420.51 429.87 L421.57 430.95 L422.59 432.09 L423.57 433.28 L424.51 434.50 L425.41 435.74 L426.27 436.99 L427.11 438.26 L427.91 439.55 L428.68 440.85 L429.42 442.16 L430.14 443.49 L430.82 444.82 L431.49 446.17 L432.13 447.53 L432.76 448.90 L433.36 450.27 L433.95 451.65 L434.52 453.04 L435.08 454.43 L435.63 455.83 L436.17 457.23 L436.70 458.64 L437.22 460.05 L437.74 461.45 L438.26 462.86 L438.77 464.27 L439.28 465.68 L439.79 467.09 L440.30 468.50 L440.80 469.91 L441.30 471.32 L441.80 472.73 L442.30 474.14 L442.80 475.55 L443.29 476.96 L443.78 478.37 L444.27 479.78 L444.76 481.19 L445.25 482.61 L445.74 484.02 L446.22 485.43 L446.70 486.85 L447.19 488.26 L447.67 489.68 L448.15 491.09 L448.62 492.51 L449.10 493.93 L449.58 495.35 L450.05 496.77 L450.52 498.19 L450.99 499.61 L451.46 501.04 L451.93 502.46 L452.39 503.89 L452.85 505.31 L453.30 506.74 L453.75 508.17 L454.19 509.60 L454.63 511.04 L455.06 512.47 L455.49 513.91 L455.91 515.35 L456.32 516.79 L456.72 518.23 L457.12 519.67 L457.50 521.12 L457.88 522.57 L458.26 524.02 L458.63 525.46 L459.01 526.91 L459.39 528.36 L459.79 529.80 L460.20 531.24 L460.62 532.67 L461.06 534.10 L461.53 535.52 L462.02 536.93 L462.54 538.34 L463.09 539.73 L463.68 541.12 L464.31 542.49 L464.98 543.85 L465.71 545.19 L466.50 546.47 L467.39 547.69 L468.37 548.80 L469.48 549.79 L470.70 550.64 L472.01 551.32 L473.40 551.81 L474.85 552.10 L476.33 552.21 L477.82 552.12 L479.30 551.87 L480.77 551.45 L482.20 550.90 L483.58 550.24 L484.90 549.47 L486.15 548.62 L487.34 547.69 L488.46 546.70 L489.52 545.66 L490.51 544.57 L491.46 543.44 L492.35 542.27 L493.20 541.06 L494.01 539.81 L494.78 538.54 L495.52 537.24 L496.23 535.92 L496.92 534.58 L497.59 533.22 L498.25 531.86 L498.89 530.48 L499.53 529.11 L500.17 527.73 L500.82 526.36 L501.47 524.99 L502.13 523.64 L502.81 522.29 L503.50 520.96 L504.19 519.63 L504.90 518.32 L505.63 517.01 L506.36 515.72 L507.11 514.43 L507.87 513.15 L508.64 511.88 L509.43 510.62 L510.23 509.37 L511.04 508.13 L511.87 506.89 L512.71 505.66 L513.57 504.45 L514.44 503.23 L515.32 502.03 L516.22 500.84 L517.13 499.65 L518.06 498.47 L519.00 497.30 L519.96 496.13 L520.93 494.98 L521.91 493.83 L522.92 492.70 L523.93 491.58 L524.96 490.47 L526.01 489.38 L527.07 488.30 L528.14 487.24 L529.23 486.19 L530.33 485.16 L531.44 484.15 L532.57 483.15 L533.72 482.18 L534.88 481.23 L536.05 480.30 L537.24 479.39 L538.43 478.50 L539.65 477.64 L540.88 476.80 L542.12 475.99 L543.37 475.21 L544.64 474.45 L545.92 473.73 L547.21 473.03 L548.52 472.36 L549.84 471.72 L551.17 471.11 L552.52 470.54 L553.88 470.00 L555.25 469.50 L556.64 469.02 L558.04 468.59 L559.45 468.18 L560.87 467.80 L562.30 467.46 L563.74 467.14 L565.19 466.85 L566.65 466.59 L568.12 466.36 L569.60 466.14 L571.08 465.96 L572.58 465.79 L574.08 465.65 L575.58 465.52 L577.09 465.42 L578.61 465.33 L580.13 465.26 L581.65 465.21 L583.18 465.17 L584.71 465.14 L586.25 465.13 L587.79 465.13 L589.33 465.14 L590.87 465.16 L592.41 465.19 L593.95 465.22 L595.49 465.27 L597.03 465.31 L598.57 465.36 L600.11 465.42 L601.64 465.48 L603.17 465.53 L604.70 465.59 L606.23 465.65 L607.75 465.70 L609.26 465.75 L610.78 465.80 L612.28 465.84 L613.78 465.87 L615.27 465.90 L616.76 465.92 L618.24 465.93 L619.71 465.93 L621.17 465.91 L622.62 465.88 L624.06 465.84 L625.49 465.79 L626.92 465.71 L628.33 465.62 L629.72 465.52 L631.11 465.39" stroke="#0000ff" stroke-width="3.00" fill="none"/>
<rect x="65.50" y="7.30" width="565.50" height="264.60" stroke="#3a3a3a" stroke-width="1.1" fill="none"/>
<rect x="71.20" y="364.80" width="560.10" height="262.40" stroke="#3a3a3a" stroke-width="1.1" fill="none"/>
<rect x="70.25" y="11.90" width="139.15" height="40.35" fill="#fff" stroke="#555" stroke-width="1.1"/>
<path d="M72.25 22.50 H91.90" stroke="#ff0000" stroke-width="3.00" stroke-dasharray="9.5 9.237"/>
<path d="M72.25 41.25 H91.90" stroke="#0000ff" stroke-width="3.00"/>
<text x="93.20" y="28.50" class="lg">Stanley</text>
<text x="93.20" y="47.30" class="lg">Stanley-EMRAN</text>
<rect x="75.50" y="370.25" width="139.50" height="39.25" fill="#fff" stroke="#555" stroke-width="1.1"/>
<path d="M77.75 380.25 H97.25" stroke="#ff0000" stroke-width="3.00" stroke-dasharray="9.4 9.117"/>
<path d="M77.75 399.00 H97.25" stroke="#0000ff" stroke-width="3.00"/>
<text x="98.90" y="386.00" class="lg">Stanley</text>
<text x="98.90" y="404.80" class="lg">Stanley-EMRAN</text>
<text x="335.20" y="315.30" class="lb" font-style="italic">t</text><text x="345.40" y="315.30" class="lb" letter-spacing="0.5">(s)</text>
<text x="337.80" y="670.70" class="lb" font-style="italic">t</text><text x="348.00" y="670.70" class="lb" letter-spacing="0.5">(s)</text>
<text transform="translate(14.70,162.50) rotate(-90)" x="0" y="0" class="lb" font-style="italic">e</text>
<text transform="translate(24.00,152.00) rotate(-90)" x="0" y="0" class="lb" font-style="italic" style="font-size:12px">y</text>
<text transform="translate(14.70,140.30) rotate(-90)" x="0" y="0" class="lb" letter-spacing="0.3">(m)</text>
<text transform="translate(14.70,525.80) rotate(-90)" x="0" y="0" class="lb" font-style="italic">e</text>
<text transform="translate(23.85,516.50) rotate(-90)" x="0" y="0" class="lb" font-style="italic" style="font-size:18px">ψ</text>
<text transform="translate(14.70,500.30) rotate(-90)" x="0" y="0" class="lb" letter-spacing="0.35">(rad)</text>
</svg>
</body></html>
